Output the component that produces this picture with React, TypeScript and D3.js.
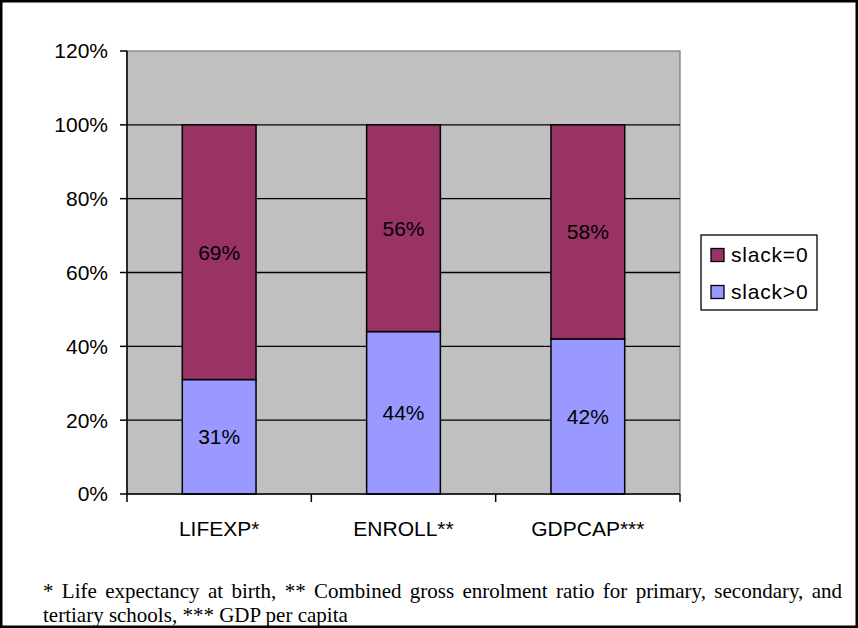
import { useEffect, useRef } from 'react'
import * as d3 from 'd3'

const categories = ['LIFEXP*', 'ENROLL**', 'GDPCAP***']
const slackPositive = [31, 44, 42]
const slackZero = [69, 56, 58]
const yTicks = [0, 20, 40, 60, 80, 100, 120]
const seriesNames = ['slack=0', 'slack>0']
const footnoteLines = [
  '* Life expectancy at birth, ** Combined gross enrolment ratio for primary, secondary, and',
  'tertiary schools, *** GDP per capita'
]

const App = () => {
  const svgRef = useRef<SVGSVGElement>(null)

  useEffect(() => {
    const W = 858
    const H = 628
    const plot = { left: 127, right: 680, top: 51, bottom: 494 }
    const sans = '"Liberation Sans", Arial, sans-serif'
    const serif = '"Liberation Serif", "Times New Roman", serif'

    const svg = d3.select(svgRef.current)
    svg.selectAll('*').remove()
    svg.attr('width', W).attr('height', H)

    svg.append('rect')
      .attr('width', W).attr('height', H).attr('fill', '#fff')

    const x = d3.scaleBand<string>()
      .domain(categories)
      .range([plot.left, plot.right])
      .paddingInner(0.6)
      .paddingOuter(0.3)

    const xOuter = d3.scaleBand<string>()
      .domain(categories)
      .range([plot.left, plot.right])

    const y = d3.scaleLinear()
      .domain([0, 120])
      .range([plot.bottom, plot.top])

    // plot area
    svg.append('rect')
      .attr('x', plot.left).attr('y', plot.top)
      .attr('width', plot.right - plot.left)
      .attr('height', plot.bottom - plot.top)
      .attr('fill', '#c0c0c0')
      .attr('stroke', '#808080')
      .attr('stroke-width', 1.3)

    // gridlines
    svg.append('g')
      .selectAll('line')
      .data(yTicks.filter(t => t > 0 && t < 120))
      .enter()
      .append('line')
      .attr('x1', plot.left).attr('x2', plot.right)
      .attr('y1', d => y(d)).attr('y2', d => y(d))
      .attr('stroke', '#000')
      .attr('stroke-width', 1.3)

    // stacked bars
    const stacks = categories.map((c, i) => ({
      cat: c,
      segs: [
        { name: 'slack>0', y0: 0, y1: slackPositive[i], value: slackPositive[i], color: '#9999ff' },
        { name: 'slack=0', y0: slackPositive[i], y1: slackPositive[i] + slackZero[i], value: slackZero[i], color: '#993366' }
      ]
    }))

    const barG = svg.append('g')
    stacks.forEach(s => {
      s.segs.forEach(seg => {
        barG.append('rect')
          .attr('x', x(s.cat)!)
          .attr('y', y(seg.y1))
          .attr('width', x.bandwidth())
          .attr('height', y(seg.y0) - y(seg.y1))
          .attr('fill', seg.color)
          .attr('stroke', '#000')
          .attr('stroke-width', 1.5)
        barG.append('text')
          .attr('x', x(s.cat)! + x.bandwidth() / 2)
          .attr('y', (y(seg.y0) + y(seg.y1)) / 2)
          .attr('dy', '0.35em')
          .attr('text-anchor', 'middle')
          .attr('font-family', sans)
          .attr('font-size', 21)
          .attr('fill', '#000')
          .text(`${seg.value}%`)
      })
    })

    // y axis
    const yAxis = svg.append('g')
    yAxis.append('line')
      .attr('x1', plot.left).attr('x2', plot.left)
      .attr('y1', plot.top).attr('y2', plot.bottom)
      .attr('stroke', '#000').attr('stroke-width', 1.5)
    yAxis.selectAll('line.tick')
      .data(yTicks)
      .enter()
      .append('line')
      .attr('class', 'tick')
      .attr('x1', plot.left - 7).attr('x2', plot.left)
      .attr('y1', d => y(d)).attr('y2', d => y(d))
      .attr('stroke', '#000').attr('stroke-width', 1.5)
    yAxis.selectAll('text')
      .data(yTicks)
      .enter()
      .append('text')
      .attr('x', 108)
      .attr('y', d => y(d))
      .attr('dy', '0.35em')
      .attr('text-anchor', 'end')
      .attr('font-family', sans)
      .attr('font-size', 21)
      .text(d => `${d}%`)

    // x axis
    const xAxis = svg.append('g')
    xAxis.append('line')
      .attr('x1', plot.left).attr('x2', plot.right)
      .attr('y1', plot.bottom).attr('y2', plot.bottom)
      .attr('stroke', '#000').attr('stroke-width', 1.5)
    const tickXs = categories.map(c => xOuter(c)!).concat([plot.right])
    xAxis.selectAll('line.tick')
      .data(tickXs)
      .enter()
      .append('line')
      .attr('class', 'tick')
      .attr('x1', d => d).attr('x2', d => d)
      .attr('y1', plot.bottom).attr('y2', plot.bottom + 8)
      .attr('stroke', '#000').attr('stroke-width', 1.5)
    xAxis.selectAll('text')
      .data(categories)
      .enter()
      .append('text')
      .attr('x', d => xOuter(d)! + xOuter.bandwidth() / 2)
      .attr('y', 536)
      .attr('text-anchor', 'middle')
      .attr('font-family', sans)
      .attr('font-size', 21)
      .text(d => d)

    // legend
    const legend = svg.append('g')
    legend.append('rect')
      .attr('x', 701).attr('y', 235)
      .attr('width', 116).attr('height', 75)
      .attr('fill', '#fff')
      .attr('stroke', '#000').attr('stroke-width', 1.3)
    const legendColors = ['#993366', '#9999ff']
    seriesNames.forEach((name, i) => {
      const cy = 255 + i * 37
      legend.append('rect')
        .attr('x', 711).attr('y', cy - 6.5)
        .attr('width', 13).attr('height', 13)
        .attr('fill', legendColors[i])
        .attr('stroke', '#000').attr('stroke-width', 1.3)
      legend.append('text')
        .attr('x', 731).attr('y', cy)
        .attr('dy', '0.35em')
        .attr('font-family', sans)
        .attr('font-size', 21)
        .attr('letter-spacing', 0.8)
        .text(name)
    })

    // footnote, first line justified to the right edge
    const footX = 43
    const footRight = 842
    const footY = [598, 621.5]
    footnoteLines.forEach((line, i) => {
      const t = svg.append('text')
        .attr('x', footX)
        .attr('y', footY[i])
        .attr('font-family', serif)
        .attr('font-size', 21)
        .attr('fill', '#000')
        .text(line)
      if (i === 0) {
        const natural = (t.node() as SVGTextElement).getComputedTextLength()
        const spaces = line.split(' ').length - 1
        const extra = (footRight - footX - natural) / spaces
        t.attr('word-spacing', extra)
      }
    })

    // outer frame
    svg.append('rect')
      .attr('x', 1.25).attr('y', 1.25)
      .attr('width', W - 2.5).attr('height', H - 2.5)
      .attr('fill', 'none')
      .attr('stroke', '#000')
      .attr('stroke-width', 2.5)
  }, [])

  return <svg ref={svgRef} style={{ position: 'absolute', left: 0, top: 0, display: 'block' }}></svg>
}

export default App
